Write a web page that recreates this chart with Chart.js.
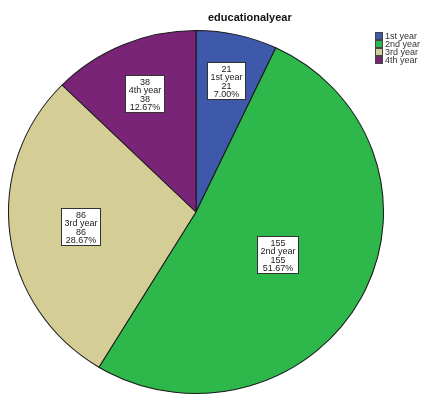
<!DOCTYPE html>
<html>
<head>
<meta charset="utf-8">
<script src="https://cdn.jsdelivr.net/npm/chart.js@4/dist/chart.umd.min.js"></script>
<style>
  html, body { margin: 0; padding: 0; background: #fff; }
  #wrap { position: relative; width: 433px; height: 396px; }
</style>
</head>
<body>
<div id="wrap"><canvas id="c" width="433" height="396"></canvas></div>
<script>
// Students by year of study
const categories = ['1st year', '2nd year', '3rd year', '4th year'];
const counts = [21, 155, 86, 38];
const sliceColors = ['#3e58aa', '#2eb84b', '#d4ce96', '#7a2478'];
const chartTitle = 'educationalyear';

const total = counts.reduce((a, b) => a + b, 0);
const FONT = '"Liberation Sans", Arial, sans-serif';
const X_STRETCH = 1.033; // slightly wider than tall

function stretch(chart) {
  const meta = chart.getDatasetMeta(0);
  const arc = meta.data[0];
  return { cx: arc.x, cy: arc.y, r: arc.outerRadius };
}

const stretchPlugin = {
  id: 'stretch',
  beforeDatasetsDraw(chart) {
    const { cx, cy } = stretch(chart);
    const ctx = chart.ctx;
    ctx.save();
    ctx.translate(cx, cy);
    ctx.scale(X_STRETCH, 1);
    ctx.translate(-cx, -cy);
  },
  afterDatasetsDraw(chart) {
    chart.ctx.restore();
  }
};

const decorPlugin = {
  id: 'decor',
  afterDraw(chart) {
    const ctx = chart.ctx;
    const { cx, cy, r } = stretch(chart);
    const meta = chart.getDatasetMeta(0);

    // value boxes inside each slice
    ctx.save();
    ctx.font = '9px ' + FONT;
    ctx.textAlign = 'center';
    ctx.textBaseline = 'middle';
    meta.data.forEach((arc, i) => {
      const share = counts[i] / total;
      const mid = (arc.startAngle + arc.endAngle) / 2;
      const dist = r * (0.78 - 0.55 * share);
      const x = cx + Math.cos(mid) * dist * X_STRETCH;
      const y = cy + Math.sin(mid) * dist;
      const lines = [String(counts[i]), categories[i], String(counts[i]), (share * 100).toFixed(2) + '%'];
      const w = Math.max(...lines.map(t => ctx.measureText(t).width)) + 6;
      const lh = 8.5;
      const h = lines.length * lh + 3;
      const bx = Math.round(x - w / 2) + 0.5;
      const by = Math.round(y - h / 2) + 0.5;
      ctx.fillStyle = '#ffffff';
      ctx.fillRect(bx, by, Math.round(w), Math.round(h));
      ctx.strokeStyle = '#333333';
      ctx.lineWidth = 1;
      ctx.strokeRect(bx, by, Math.round(w), Math.round(h));
      ctx.fillStyle = '#222222';
      lines.forEach((t, k) => {
        ctx.fillText(t, bx + Math.round(w) / 2, by + 2 + lh * (k + 0.5) + 0.5);
      });
    });
    ctx.restore();

    // title
    ctx.save();
    ctx.font = 'bold 11px ' + FONT;
    ctx.fillStyle = '#111111';
    ctx.textAlign = 'left';
    ctx.textBaseline = 'alphabetic';
    ctx.fillText(chartTitle, 208, 21);
    ctx.restore();

    // legend
    ctx.save();
    ctx.font = '9px ' + FONT;
    ctx.textBaseline = 'middle';
    ctx.textAlign = 'left';
    categories.forEach((name, i) => {
      const y = 32 + i * 8;
      ctx.fillStyle = sliceColors[i];
      ctx.fillRect(375.5, y + 0.5, 7, 7);
      ctx.strokeStyle = '#444444';
      ctx.lineWidth = 1;
      ctx.strokeRect(375.5, y + 0.5, 7, 7);
      ctx.fillStyle = '#333333';
      ctx.fillText(name, 385, y + 4.5);
    });
    ctx.restore();
  }
};

new Chart(document.getElementById('c'), {
  type: 'pie',
  data: {
    labels: categories,
    datasets: [{
      data: counts,
      backgroundColor: sliceColors,
      borderColor: '#1a1a1a',
      borderWidth: 1
    }]
  },
  options: {
    responsive: false,
    animation: false,
    events: [],
    layout: { padding: { left: 14, right: 55, top: 30, bottom: 2 } },
    plugins: {
      legend: { display: false },
      title: { display: false },
      tooltip: { enabled: false }
    }
  },
  plugins: [stretchPlugin, decorPlugin]
});
</script>
</body>
</html>
